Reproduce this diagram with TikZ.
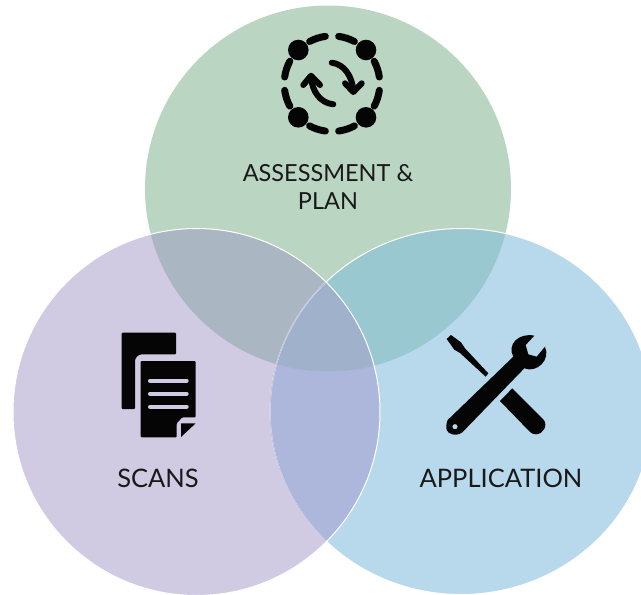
\documentclass[tikz,border=0pt]{standalone}
\usepackage{fontspec}
\setmainfont{Lato}
\definecolor{greenfill}{HTML}{BAD6C2}
\definecolor{purplefill}{HTML}{D0CAE2}
\definecolor{bluefill}{HTML}{B8D8EC}
\definecolor{greenpurple}{HTML}{ABB6C3}
\definecolor{greenblue}{HTML}{9AC8D0}
\definecolor{purpleblue}{HTML}{ADB7DB}
\definecolor{allthree}{HTML}{A0B1CC}
\definecolor{iconblack}{HTML}{050505}
\definecolor{faintedge}{HTML}{C6C2DE}
\tikzset{
  title/.style={font=\fontsize{23.5}{28}\selectfont, text=black!90, align=center},
  wide title/.style={font=\fontsize{25.5}{28}\selectfont, text=black!90},
  ringline/.style={iconblack, line width=7, line cap=round},
  turnline/.style={iconblack, line width=6, line cap=round, line join=round},
  docline/.style={purplefill, line width=4, line cap=round},
  outline/.style={white, line width=1}
}
\def\circA{(328,188.5) circle (183)}
\def\circB{(196.5,412) circle (183.5)}
\def\circC{(461,411.5) ellipse [x radius=191, y radius=183]}
\begin{document}
\begin{tikzpicture}[x=1pt,y=-1pt]
  \useasboundingbox (0,0) rectangle (641,595);
  \clip (0,0) rectangle (641,595);

  % Circles
  \fill[greenfill] \circA;
  \fill[purplefill] \circB;
  \fill[bluefill] \circC;

  % Overlaps
  \begin{scope}
    \clip \circA;
    \fill[greenpurple] \circB;
    \fill[greenblue] \circC;
  \end{scope}
  \begin{scope}
    \clip \circB;
    \fill[purpleblue] \circC;
    \clip \circC;
    \fill[allthree] \circA;
  \end{scope}

  % Edges
  \draw[outline] \circC;
  \begin{scope}
    \clip \circB;
    \draw[faintedge, line width=1] \circC;
  \end{scope}
  \draw[outline] \circB;

  % Cycle icon
  \foreach \dotx/\doty in {298.3/50, 366/50, 298.3/117.3, 366/117.3}
    \fill[iconblack] (\dotx,\doty) circle (10.3);
  \foreach \ang in {8,62,98,152,188,242,278,332}
    \draw[ringline] ([shift={(332,83.7)}]\ang:47.8) arc[start angle=\ang, delta angle=20, radius=47.8];
  \draw[turnline] (331.7,62.7) .. controls (344,64) and (352,76) .. (353.3,90);
  \draw[turnline] (345,83.3) -- (353.3,92) -- (361.7,83.3);
  \draw[turnline] (333.3,104.3) .. controls (320,103) and (312,91) .. (311,77);
  \draw[turnline] (303.3,85) -- (311,75.7) -- (320,85);

  % Document icon
  \fill[iconblack, rounded corners=1] (121.7,332.7) -- (176,332.7) -- (176,354.3) -- (143,354.3)
    .. controls (138,354.3) and (135,358) .. (135,362) -- (135,409) -- (121.7,409) -- cycle;
  \fill[iconblack, rounded corners=1] (140.7,361) -- (195.7,361) -- (195.7,417.3) -- (182.3,417.3)
    -- (176.7,423.3) -- (176.7,437.3) -- (140.7,437.3) -- cycle;
  \fill[iconblack] (181,423.3) -- (195.7,423.3) -- (181,437) -- cycle;
  \foreach \liney in {380.7,393.7,406.7}
    \draw[docline] (150,\liney) -- (186.7,\liney);

  % Tools icon
  \begin{scope}[shift={(435,325)},x=0.3333pt,y=-0.3333pt]
    \fill[iconblack] (35,42) -- (48,30) -- (78,52) -- (90,70) -- (160,145) -- (152,155)
      -- (75,84) -- (58,74) -- cycle;
    \fill[iconblack] (195,228) -- (232,190) -- (325,283)
      .. controls (340,300) and (325,328) .. (303,328)
      .. controls (295,328) and (288,325) .. (284,320) -- cycle;
    \fill[iconblack, even odd rule] (38,285) -- (235,95)
      .. controls (215,60) and (250,22) .. (298,32) -- (272,60) -- (280,88) -- (305,95) -- (330,65)
      .. controls (348,105) and (305,145) .. (268,130) -- (82,322)
      .. controls (62,337) and (30,327) .. (34,303) .. controls (34,297) and (35,291) .. (38,285) -- cycle
      (60,305) circle (8);
  \end{scope}

  % Labels
  \node[title] (assess) at (328,187) {ASSESSMENT \&\\PLAN};
  \node[wide title] (scans) at (158,478) {SCANS};
  \node[wide title] (application) at (501,478) {APPLICATION};
\end{tikzpicture}
\end{document}
